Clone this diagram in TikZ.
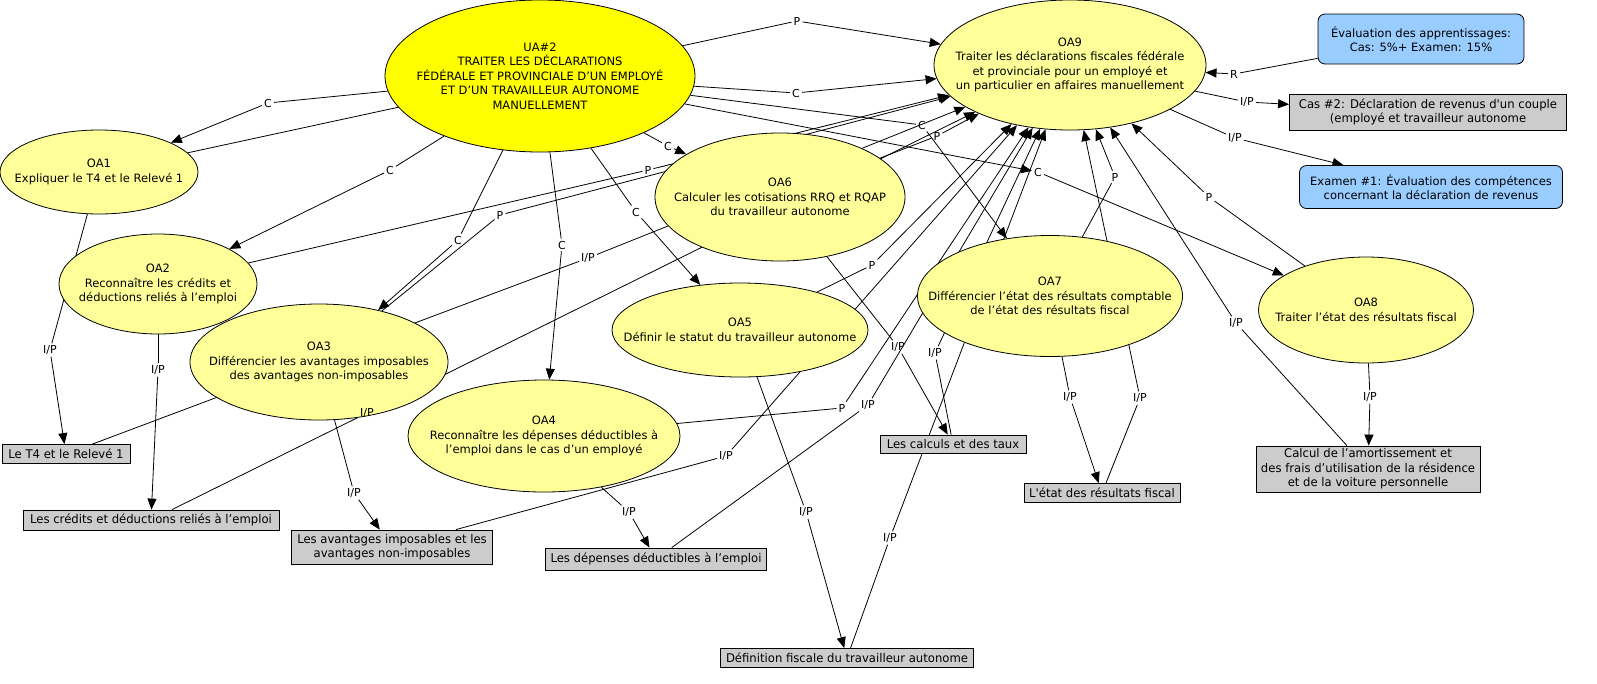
\documentclass[tikz,border=0pt]{standalone}
\usepackage{fontspec}
\setmainfont{DejaVu Sans}
\newfontfamily\boxfont[FakeStretch=0.97]{DejaVu Sans}
\usetikzlibrary{shapes.geometric,arrows.meta}
\definecolor{oafill}{HTML}{FFFF99}
\definecolor{uafill}{HTML}{FFFF00}
\definecolor{evalfill}{HTML}{99CCFF}
\definecolor{resfill}{HTML}{CCCCCC}
\pgfdeclarelayer{bg}
\pgfsetlayers{bg,main}

\begin{document}
\begin{tikzpicture}[x=1pt,y=-1pt,
  font=\fontsize{11.5}{14.5}\selectfont,
  obj/.style={ellipse,draw,line width=0.8pt,fill=oafill,inner sep=0pt},
  res/.style={draw,line width=0.8pt,fill=resfill,align=center,inner sep=0pt,font=\boxfont\fontsize{12}{14.5}\selectfont},
  eval/.style={draw,line width=0.8pt,fill=evalfill,rounded corners=7pt,align=center,inner sep=0pt,font=\fontsize{11.5}{14.5}\selectfont},
  lbl/.style={inner sep=2pt,font=\fontsize{11}{12}\selectfont},
  lnk/.style={line width=0.8pt},
  arr/.style={line width=0.8pt,-{Triangle[length=11pt,width=9pt]}}]
\useasboundingbox (0,0) rectangle (1597,683);

\node[obj,fill=uafill,minimum width=310pt,minimum height=152pt,label={[align=center]center:{UA\#2\\TRAITER LES DÉCLARATIONS\\FÉDÉRALE ET PROVINCIALE D'UN EMPLOYÉ\\ET D'UN TRAVAILLEUR AUTONOME\\MANUELLEMENT}}] (ua2) at (540,76) {};
\node[obj,minimum width=272pt,minimum height=130pt,label={[align=center]center:{OA9\\Traiter les déclarations fiscales fédérale\\et provinciale pour un employé et\\un particulier en affaires manuellement}}] (oa9) at (1070,65) {};
\node[obj,minimum width=198pt,minimum height=84pt,label={[align=center]center:{OA1\\Expliquer le T4 et le Relevé 1}}] (oa1) at (99,172) {};
\node[obj,minimum width=198pt,minimum height=100pt,label={[align=center]center:{OA2\\Reconnaître les crédits et\\déductions reliés à l’emploi}}] (oa2) at (158,284) {};
\node[obj,minimum width=258pt,minimum height=116pt,label={[align=center]center:{OA3\\Différencier les avantages imposables\\des avantages non-imposables}}] (oa3) at (319,362) {};
\node[obj,minimum width=272pt,minimum height=112pt,label={[align=center]center:{OA4\\Reconnaître les dépenses déductibles à\\l’emploi dans le cas d’un employé}}] (oa4) at (544,436) {};
\node[obj,minimum width=256pt,minimum height=94pt,label={[align=center]center:{OA5\\Définir le statut du travailleur autonome}}] (oa5) at (740,330) {};
\node[obj,minimum width=250pt,minimum height=128pt,label={[align=center]center:{OA6\\Calculer les cotisations RRQ et RQAP\\du travailleur autonome}}] (oa6) at (780,197) {};
\node[obj,minimum width=265pt,minimum height=121pt,label={[align=center]center:{OA7\\Différencier l’état des résultats comptable\\de l’état des résultats fiscal}}] (oa7) at (1050,296) {};
\node[obj,minimum width=215pt,minimum height=106pt,label={[align=center]center:{OA8\\Traiter l’état des résultats fiscal}}] (oa8) at (1366,310) {};

\node[eval,minimum width=206pt,minimum height=50pt] (eval1) at (1421,39) {Évaluation des apprentissages:\\Cas: 5\%+ Examen: 15\%};
\node[eval,minimum width=263pt,minimum height=43pt] (eval2) at (1431,187) {Examen \#1: Évaluation des compétences\\concernant la déclaration de revenus};

\node[res,minimum width=277pt,minimum height=36pt] (cas2) at (1428,112) {Cas \#2: Déclaration de revenus d'un couple\\(employé et travailleur autonome};
\node[res,minimum width=128pt,minimum height=19pt] (t4) at (66,454) {Le T4 et le Relevé 1};
\node[res,minimum width=256pt,minimum height=20pt] (credits) at (151,520) {Les crédits et déductions reliés à l’emploi};
\node[res,minimum width=201pt,minimum height=34pt] (avantages) at (392,547) {Les avantages imposables et les\\avantages non-imposables};
\node[res,minimum width=221pt,minimum height=22pt] (depenses) at (656,559) {Les dépenses déductibles à l’emploi};
\node[res,minimum width=253pt,minimum height=19pt] (definition) at (847,658) {Définition fiscale du travailleur autonome};
\node[res,minimum width=146pt,minimum height=18pt] (calculs) at (953,444) {Les calculs et des taux};
\node[res,minimum width=156pt,minimum height=19pt] (etat) at (1102,493) {L'état des résultats fiscal};
\node[res,minimum width=224pt,minimum height=46pt] (amort) at (1368,469) {Calcul de l’amortissement et\\des frais d’utilisation de la résidence\\et de la voiture personnelle};

\node[lbl] (p1) at (797,21) {P};
\node[lbl] (c1) at (796,93) {C};
\node[lbl] (c2) at (268,103) {C};
\node[lbl] (c3) at (390,170) {C};
\node[lbl] (c4) at (458,240) {C};
\node[lbl] (c5) at (562,245) {C};
\node[lbl] (c6) at (636,212) {C};
\node[lbl] (c7) at (668,146) {C};
\node[lbl] (c8) at (922,125) {C};
\node[lbl] (c9) at (1038,172) {C};
\node[lbl] (p2) at (648,170) {P};
\node[lbl] (p3) at (500,215) {P};
\node[lbl] (p4) at (937,136) {P};
\node[lbl] (p5) at (872,265) {P};
\node[lbl] (p6) at (842,408) {P};
\node[lbl] (p7) at (1115,177) {P};
\node[lbl] (p8) at (1209,197) {P};
\node[lbl] (r1) at (1234,74) {R};
\node[lbl] (ip1) at (1247,102) {I/P};
\node[lbl] (ip2) at (1235,138) {I/P};
\node[lbl] (ip3) at (50,350) {I/P};
\node[lbl] (ip4) at (158,370) {I/P};
\node[lbl] (ip5) at (354,493) {I/P};
\node[lbl] (ip6) at (629,512) {I/P};
\node[lbl] (ip7) at (806,512) {I/P};
\node[lbl] (ip8) at (898,347) {I/P};
\node[lbl] (ip9) at (1070,397) {I/P};
\node[lbl] (ip10) at (1370,397) {I/P};
\node[lbl] (ip11) at (588,258) {I/P};
\node[lbl] (ip12) at (367,413) {I/P};
\node[lbl] (ip13) at (726,456) {I/P};
\node[lbl] (ip14) at (868,405) {I/P};
\node[lbl] (ip15) at (890,538) {I/P};
\node[lbl] (ip16) at (935,353) {I/P};
\node[lbl] (ip17) at (1140,398) {I/P};
\node[lbl] (ip18) at (1236,323) {I/P};

\begin{pgfonlayer}{bg}
\draw[lnk] (oa1) -- (p1); \draw[arr] (p1) -- (oa9);
\draw[lnk] (ua2) -- (c1); \draw[arr] (c1) -- (oa9);
\draw[lnk] (ua2) -- (c2); \draw[arr] (c2) -- (oa1);
\draw[lnk] (ua2) -- (c3); \draw[arr] (c3) -- (oa2);
\draw[lnk] (ua2) -- (c4); \draw[arr] (c4) -- (oa3);
\draw[lnk] (ua2) -- (c5); \draw[arr] (c5) -- (oa4);
\draw[lnk] (ua2) -- (c6); \draw[arr] (c6) -- (oa5);
\draw[lnk] (ua2) -- (c7); \draw[arr] (c7) -- (oa6);
\draw[lnk] (ua2) -- (c8); \draw[arr] (c8) -- (oa7);
\draw[arr] (ua2) -- (c9); \draw[arr] (c9) -- (oa8);
\draw[lnk] (oa2) -- (p2); \draw[arr] (p2) -- (oa9);
\draw[lnk] (oa3) -- (p3); \draw[arr] (p3) -- (oa9);
\draw[lnk] (oa6) -- (p4); \draw[arr] (p4) -- (oa9);
\draw[lnk] (oa5) -- (p5); \draw[arr] (p5) -- (oa9);
\draw[lnk] (oa4) -- (p6); \draw[arr] (p6) -- (oa9);
\draw[lnk] (oa7) -- (p7); \draw[arr] (p7) -- (oa9);
\draw[lnk] (oa8) -- (p8); \draw[arr] (p8) -- (oa9);
\draw[lnk] (eval1) -- (r1); \draw[arr] (r1) -- (oa9);
\draw[lnk] (oa9) -- (ip1); \draw[arr] (ip1) -- (cas2);
\draw[lnk] (oa9) -- (ip2); \draw[arr] (ip2) -- (eval2);
\draw[lnk] (oa1) -- (ip3); \draw[arr] (ip3) -- (t4);
\draw[lnk] (oa2) -- (ip4); \draw[arr] (ip4) -- (credits);
\draw[lnk] (oa3) -- (ip5); \draw[arr] (ip5) -- (avantages);
\draw[lnk] (oa4) -- (ip6); \draw[arr] (ip6) -- (depenses);
\draw[lnk] (oa5) -- (ip7); \draw[arr] (ip7) -- (definition);
\draw[lnk] (oa6) -- (ip8); \draw[arr] (ip8) -- (calculs);
\draw[lnk] (oa7) -- (ip9); \draw[arr] (ip9) -- (etat);
\draw[lnk] (oa8) -- (ip10); \draw[arr] (ip10) -- (amort);
\draw[lnk] (t4) -- (ip11); \draw[arr] (ip11) -- (oa9);
\draw[lnk] (credits) -- (ip12); \draw[arr] (ip12) -- (oa9);
\draw[lnk] (avantages) -- (ip13); \draw[arr] (ip13) -- (oa9);
\draw[lnk] (depenses) -- (ip14); \draw[arr] (ip14) -- (oa9);
\draw[lnk] (definition) -- (ip15); \draw[arr] (ip15) -- (oa9);
\draw[lnk] (calculs) -- (ip16); \draw[arr] (ip16) -- (oa9);
\draw[lnk] (etat) -- (ip17); \draw[arr] (ip17) -- (oa9);
\draw[lnk] (amort) -- (ip18); \draw[arr] (ip18) -- (oa9);
\end{pgfonlayer}
\end{tikzpicture}
\end{document}
